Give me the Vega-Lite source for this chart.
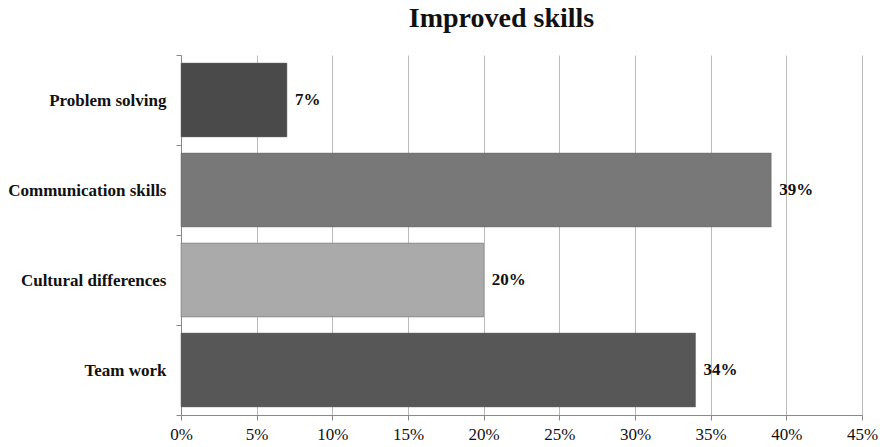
{
  "$schema": "https://vega.github.io/schema/vega-lite/v6.json",
  "width": 681,
  "height": 360,
  "autosize": "none",
  "padding": {"left": 181, "top": 55, "right": 18, "bottom": 32},
  "background": "white",
  "title": {"text": "Improved skills", "font": "Liberation Serif", "fontSize": 28, "fontWeight": "bold", "color": "#111111", "anchor": "middle", "dx": -20, "offset": 13},
  "config": {"view": {"stroke": null}},
  "data": {"values": [
    {"skill": "Problem solving", "share": 0.07},
    {"skill": "Communication skills", "share": 0.39},
    {"skill": "Cultural differences", "share": 0.20},
    {"skill": "Team work", "share": 0.34}
  ]},
  "encoding": {
    "y": {"field": "skill", "type": "nominal", "sort": null, "title": null,
      "scale": {"paddingInner": 0, "paddingOuter": 0},
      "axis": {"tickBand": "extent", "domainColor": "#888888", "tickColor": "#888888", "tickSize": 5, "labelFont": "Liberation Serif", "labelFontSize": 17, "labelFontWeight": "bold", "labelColor": "#111111", "labelPadding": 10, "grid": false, "labelLimit": 300}},
    "x": {"field": "share", "type": "quantitative", "title": null,
      "scale": {"domain": [0, 0.45], "nice": false},
      "axis": {"values": [0, 0.05, 0.1, 0.15, 0.2, 0.25, 0.3, 0.35, 0.4, 0.45], "format": ".0%", "grid": true, "gridColor": "#bbbbbb", "domainColor": "#888888", "tickColor": "#888888", "tickSize": 5, "labelFont": "Liberation Serif", "labelFontSize": 17, "labelColor": "#111111", "labelPadding": 6, "labelFlush": false, "labelOverlap": false}}
  },
  "layer": [
    {"mark": {"type": "bar", "height": {"band": 0.82}, "stroke": "#666666", "strokeWidth": 0.5},
     "encoding": {"color": {"field": "skill", "type": "nominal", "legend": null,
       "scale": {"domain": ["Problem solving", "Communication skills", "Cultural differences", "Team work"], "range": ["#4a4a4a", "#787878", "#aaaaaa", "#575757"]}}}},
    {"mark": {"type": "text", "align": "left", "baseline": "middle", "dx": 8, "font": "Liberation Serif", "fontSize": 17, "fontWeight": "bold", "color": "#111111"},
     "encoding": {"text": {"field": "share", "type": "quantitative", "format": ".0%"}}}
  ]
}
